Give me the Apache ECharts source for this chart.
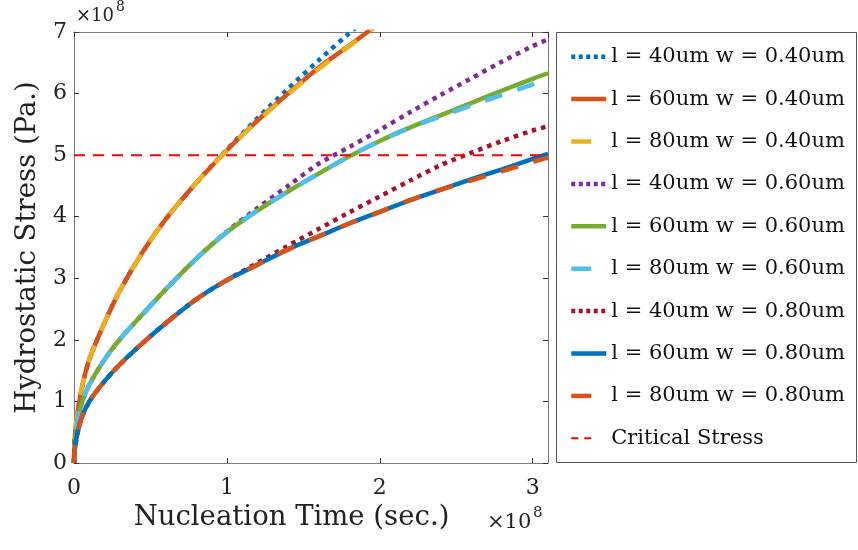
<!DOCTYPE html>
<html><head><meta charset="utf-8">
<script src="https://cdn.jsdelivr.net/npm/echarts@6/dist/echarts.min.js"></script>
<style>html,body{margin:0;padding:0;background:#fff}#c{width:858px;height:550px}</style>
</head><body><div id="c"></div>
<script>
const FONT = '"DejaVu Serif", serif';
// Time (×1e8 s)
const timeW040 = [0, 0.005, 0.02, 0.05, 0.1, 0.2, 0.3, 0.45, 0.6, 0.8, 1.0, 1.2, 1.4, 1.6, 1.8, 2.0];
const timeGrid = [0, 0.005, 0.02, 0.05, 0.1, 0.2, 0.3, 0.45, 0.6, 0.8, 1.0, 1.2, 1.4, 1.6, 1.8, 2.0, 2.2, 2.4, 2.6, 2.8, 3.0, 3.1];
// Hydrostatic stress (×1e8 Pa)
const l40w040 = [0, 0.4, 0.76, 1.2, 1.68, 2.28, 2.8, 3.43, 3.96, 4.55, 5.09, 5.6, 6.08, 6.54, 6.98, 7.4];
const l60w040 = [0, 0.4, 0.76, 1.2, 1.68, 2.28, 2.8, 3.43, 3.96, 4.55, 5.08, 5.56, 6.0, 6.42, 6.78, 7.15];
const l80w040 = [0, 0.4, 0.76, 1.2, 1.68, 2.28, 2.8, 3.43, 3.96, 4.55, 5.08, 5.55, 5.99, 6.4, 6.77, 7.14];
const l40w060 = [0, 0.32, 0.62, 0.97, 1.27, 1.68, 2.01, 2.42, 2.82, 3.32, 3.76, 4.14, 4.5, 4.86, 5.13, 5.41, 5.7, 5.98, 6.25, 6.52, 6.77, 6.88];
const l60w060 = [0, 0.32, 0.62, 0.97, 1.27, 1.68, 2.01, 2.42, 2.82, 3.32, 3.75, 4.1, 4.41, 4.7, 4.98, 5.23, 5.45, 5.65, 5.85, 6.05, 6.24, 6.33];
const l80w060 = [0, 0.32, 0.62, 0.97, 1.27, 1.68, 2.01, 2.42, 2.82, 3.32, 3.75, 4.1, 4.41, 4.7, 4.98, 5.23, 5.45, 5.63, 5.81, 5.98, 6.15, 6.23];
const l40w080 = [0, 0.22, 0.45, 0.74, 1.0, 1.33, 1.6, 1.95, 2.27, 2.66, 2.97, 3.25, 3.53, 3.8, 4.07, 4.33, 4.59, 4.84, 5.04, 5.23, 5.4, 5.47];
const l60w080 = [0, 0.22, 0.45, 0.74, 1.0, 1.33, 1.6, 1.95, 2.27, 2.66, 2.97, 3.22, 3.47, 3.68, 3.89, 4.08, 4.27, 4.44, 4.61, 4.77, 4.94, 5.02];
const l80w080 = [0, 0.22, 0.45, 0.74, 1.0, 1.33, 1.6, 1.95, 2.27, 2.66, 2.97, 3.22, 3.47, 3.68, 3.89, 4.08, 4.27, 4.44, 4.59, 4.74, 4.89, 4.96];
const criticalTime = [0, 3.1];
const criticalStress = [5, 5];
const seriesNames = ['l = 40um w = 0.40um','l = 60um w = 0.40um','l = 80um w = 0.40um',
  'l = 40um w = 0.60um','l = 60um w = 0.60um','l = 80um w = 0.60um',
  'l = 40um w = 0.80um','l = 60um w = 0.80um','l = 80um w = 0.80um','Critical Stress'];
const xTickStep = 1, yTickStep = 1;

const LW = 4.5;
const DOT = [4.5, 5], DASH = [18, 16];
const styles = [
  ['#0072BD', DOT], ['#D95319', 'solid'], ['#EDB120', DASH],
  ['#7E2F8E', DOT], ['#77AC30', 'solid'], ['#4DBEEE', DASH],
  ['#A2142F', DOT], ['#0072BD', 'solid'], ['#D95319', DASH]
];
const xs = [timeW040, timeW040, timeW040, timeGrid, timeGrid, timeGrid, timeGrid, timeGrid, timeGrid];
const ys = [l40w040, l60w040, l80w040, l40w060, l60w060, l80w060, l40w080, l60w080, l80w080];
const pts = (t, v) => t.map((x, i) => [x, v[i]]);

const series = ys.map((v, i) => ({
  name: seriesNames[i], type: 'line', data: pts(xs[i], v), symbol: 'none',
  smooth: 0.3, clip: true, silent: true,
  lineStyle: { color: styles[i][0], width: LW, type: styles[i][1], cap: 'butt', join: 'round' },
  itemStyle: { color: styles[i][0] }
}));
series.push({
  name: seriesNames[9], type: 'line', data: pts(criticalTime, criticalStress), symbol: 'none', silent: true,
  lineStyle: { color: '#FF0000', width: 2, type: [11, 8] }, itemStyle: { color: '#FF0000' }
});

const legendData = seriesNames.map((n, i) => {
  const d = { name: n };
  if (i < 9) {
    if (styles[i][1] === DOT) d.lineStyle = { type: [4, 3.5], width: LW };
    else if (styles[i][1] === DASH) d.lineStyle = { type: [20, 40], width: LW };
    else d.lineStyle = { width: LW };
  } else d.lineStyle = { type: [7, 6, 7, 100], width: 2 };
  return d;
});

const axisCommon = {
  type: 'value', splitLine: { show: false },
  axisLine: { show: true, onZero: false, lineStyle: { color: '#7a7a7a', width: 1 } },
  axisTick: { show: true, inside: true, length: 5, lineStyle: { color: '#333' } }
};
const chart = echarts.init(document.getElementById('c'), null, { renderer: 'canvas' });
chart.setOption({
  animation: false,
  backgroundColor: '#fff',
  grid: { left: 74, right: 310, top: 32, bottom: 87, containLabel: false },
  xAxis: [
    Object.assign({}, axisCommon, {
      min: 0, max: 3.1, interval: xTickStep, position: 'bottom',
      axisLabel: { showMaxLabel: false, fontFamily: FONT, fontSize: 22, color: '#222', margin: 14 },
      name: 'Nucleation Time (sec.)', nameLocation: 'middle', nameGap: 39,
      nameTextStyle: { fontFamily: FONT, fontSize: 27.5, color: '#222', padding: [0, 39, 0, 0] }
    }),
    Object.assign({}, axisCommon, { min: 0, max: 3.1, interval: xTickStep, position: 'top', axisLabel: { show: false } })
  ],
  yAxis: [
    Object.assign({}, axisCommon, {
      min: 0, max: 7, interval: yTickStep, position: 'left',
      axisLabel: { fontFamily: FONT, fontSize: 22, color: '#222', margin: 7 },
      name: 'Hydrostatic Stress (Pa.)', nameLocation: 'middle', nameGap: 30,
      nameTextStyle: { fontFamily: FONT, fontSize: 27.5, color: '#222' }
    }),
    Object.assign({}, axisCommon, { min: 0, max: 7, interval: yTickStep, position: 'right', axisLabel: { show: false } })
  ],
  legend: {
    orient: 'vertical', left: 569, top: 44.7, padding: 0, itemGap: 18.4,
    itemWidth: 35, itemHeight: 1, selectedMode: false,
    itemStyle: { opacity: 0 },
    textStyle: { fontFamily: FONT, fontSize: 21, color: '#111', lineHeight: 24 },
    data: legendData
  },
  graphic: [
    { type: 'rect', shape: { x: 556.5, y: 32.5, width: 300, height: 430 }, style: { fill: 'none', stroke: '#555', lineWidth: 1 }, silent: true },
    { type: 'text', x: 76, y: 16.5, style: { text: '×10', fontFamily: FONT, fontSize: 18, fill: '#222', verticalAlign: 'middle' }, silent: true },
    { type: 'text', x: 116, y: 7, style: { text: '8', fontFamily: FONT, fontSize: 14, fill: '#222', verticalAlign: 'middle' }, silent: true },
    { type: 'text', x: 487, y: 523, style: { text: '×10', fontFamily: FONT, fontSize: 21, fill: '#222', verticalAlign: 'middle' }, silent: true },
    { type: 'text', x: 533, y: 513, style: { text: '8', fontFamily: FONT, fontSize: 15, fill: '#222', verticalAlign: 'middle' }, silent: true }
  ],
  series: series
});
</script></body></html>
